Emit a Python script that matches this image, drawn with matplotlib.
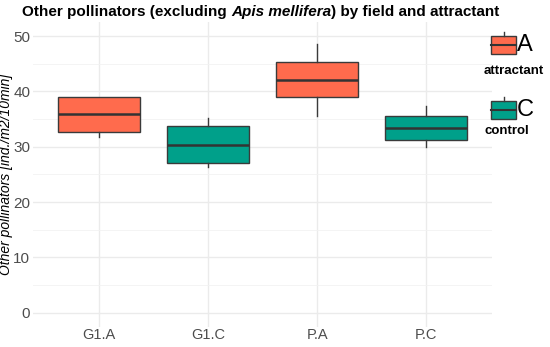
import matplotlib
matplotlib.use("Agg")
import matplotlib.pyplot as plt
from matplotlib.patches import Rectangle

plt.rcParams['font.family'] = ['Liberation Sans', 'DejaVu Sans']

# Box statistics
groups = ["G1.A", "G1.C", "P.A", "P.C"]
attractant = ["A", "C", "A", "C"]
q1 = [32.7, 27.0, 38.9, 31.3]
medians = [36.0, 30.3, 42.05, 33.4]
q3 = [39.0, 33.7, 45.25, 35.6]
whisker_lo = [31.8, 26.3, 35.6, 29.9]
whisker_hi = [39.0, 35.1, 48.5, 37.4]

colors = {"A": "#FF6B4D", "C": "#00A08A"}
legend_labels = {"A": "attractant", "C": "control"}

stats = []
for i, g in enumerate(groups):
    stats.append({
        "label": g,
        "q1": q1[i], "med": medians[i], "q3": q3[i],
        "whislo": whisker_lo[i], "whishi": whisker_hi[i],
        "fliers": [],
    })

fig = plt.figure(figsize=(5.5, 3.47), dpi=100)
ax = fig.add_axes([0.06, 0.059, 0.8345, 0.877])

edge = "#3a3a3a"
bp = ax.bxp(stats, positions=range(len(groups)), widths=0.75,
            patch_artist=True, showcaps=False,
            boxprops=dict(edgecolor=edge, linewidth=1.0),
            medianprops=dict(color="#333333", linewidth=1.8),
            whiskerprops=dict(color=edge, linewidth=1.0))
for patch, a in zip(bp["boxes"], attractant):
    patch.set_facecolor(colors[a])

ax.set_xlim(-0.6, 3.6)
ax.set_ylim(-2.5, 52.5)
ax.set_yticks([0, 10, 20, 30, 40, 50])
ax.set_yticks([5, 15, 25, 35, 45], minor=True)
ax.grid(True, which="major", color="#EBEBEB", linewidth=1.0)
ax.grid(True, which="minor", axis="y", color="#F2F2F2", linewidth=0.6)
ax.set_axisbelow(True)
for s in ax.spines.values():
    s.set_visible(False)
ax.tick_params(which="both", length=0)
ax.tick_params(axis="y", labelsize=11, labelcolor="#4D4D4D", pad=2)
ax.tick_params(axis="x", labelsize=10.5, labelcolor="#4D4D4D", pad=1)

ax.set_ylabel("Other pollinators [ind./m2/10min]", fontsize=10,
              style="italic", labelpad=0)

# title in three pieces so the species name can be bold italic
title_y = 0.965
t1 = fig.text(0.04, title_y, "Other pollinators (excluding ", fontsize=11,
              fontweight="bold", va="center", ha="left")
fig.canvas.draw()
r = fig.canvas.get_renderer()
bb = t1.get_window_extent(r)
t2 = fig.text(bb.x1 / fig.bbox.width, title_y, "Apis mellifera", fontsize=11,
              fontweight="bold", style="italic", va="center", ha="left")
bb = t2.get_window_extent(r)
fig.text(bb.x1 / fig.bbox.width, title_y, ") by field and attractant", fontsize=11,
         fontweight="bold", va="center", ha="left")

# legend drawn by hand: key glyph, big letter and a bold caption
key_y = [0.870, 0.683]
cap_y = [0.795, 0.622]
for a, yc, cy in zip(["A", "C"], key_y, cap_y):
    kx, kw, kh = 0.893, 0.045, 0.052
    fig.patches.append(Rectangle((kx, yc - kh / 2), kw, kh, transform=fig.transFigure,
                                 facecolor=colors[a], edgecolor=edge, linewidth=1.0))
    fig.lines.append(plt.Line2D([kx, kx + kw], [yc, yc], transform=fig.transFigure,
                                color="#333333", linewidth=1.5))
    fig.lines.append(plt.Line2D([kx + kw / 2] * 2, [yc + kh / 2, yc + kh / 2 + 0.012],
                                transform=fig.transFigure, color=edge, linewidth=1.0))
    fig.text(kx + kw + 0.002, yc, a, fontsize=17, va="center", ha="left")
    fig.text(0.934 if a == "A" else 0.922, cy, legend_labels[a], fontsize=9.5,
             fontweight="bold", va="center", ha="center")

fig.savefig("out.png", dpi=100)
